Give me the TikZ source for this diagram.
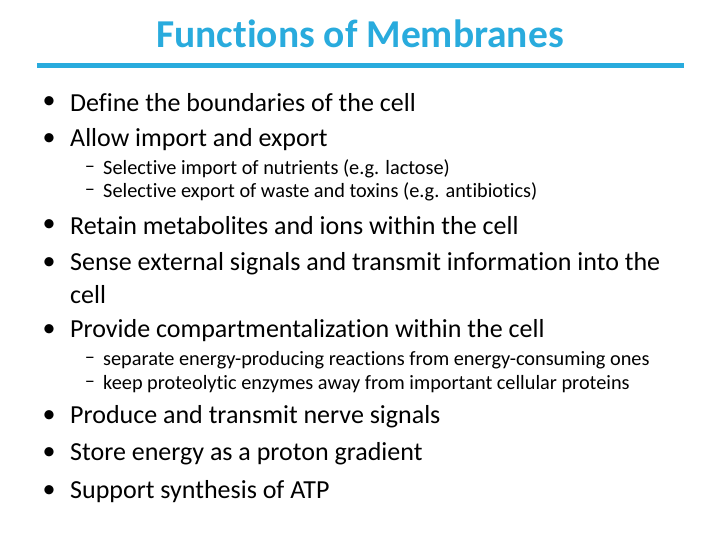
\documentclass[tikz,border=0pt]{standalone}
\usepackage{fontspec}
\setmainfont{Carlito}[Ligatures={NoCommon,NoRequired,NoContextual}]
\usepackage{xcolor}
\definecolor{titleblue}{RGB}{41,171,221}
\begin{document}
\begin{tikzpicture}[x=1pt,y=-1pt]
  % styles
  \tikzset{
    heading/.style={anchor=center, text=titleblue, font=\fontsize{39.5}{44}\selectfont\bfseries},
    item/.style={anchor=west, inner sep=0pt, font=\fontsize{26}{30}\selectfont},
    subitem/.style={anchor=west, inner sep=0pt, font=\fontsize{20.3}{24}\selectfont},
    dot/.style={anchor=center, inner sep=0pt, font=\fontsize{26}{30}\selectfont},
    submark/.style={anchor=center, inner sep=0pt, font=\fontsize{20.3}{24}\selectfont},
    rule/.style={draw=titleblue, line width=5pt}
  }
  \useasboundingbox (0,0) rectangle (720,540);

  \node [heading] (title) at (360,34) {Functions of Membranes};
  \coordinate (ruleL) at (37,66);
  \coordinate (ruleR) at (684,66);
  \draw [rule] (ruleL) -- (ruleR);

  % main items
  \foreach \y/\t [count=\i] in {
      103/Define the boundaries of the cell,
      140/Allow import and export,
      226/Retain metabolites and ions within the cell,
      264/Sense external signals and transmit information into the,
      331/Provide compartmentalization within the cell,
      417/Produce and transmit nerve signals,
      454/Store energy as a proton gradient,
      492/Support synthesis of ATP} {
    \node [dot] (bullet\i) at (49,\y) {•};
    \node [item] (item\i) at (70,\y) {\t};
  }
  \node [item] (item4b) at (70,295) {cell};

  % sub items
  \foreach \y/\t [count=\i] in {
      169/Selective import of nutrients (e.g. lactose),
      192/Selective export of waste and toxins (e.g. antibiotics),
      360/separate energy-producing reactions from energy-consuming ones,
      384/keep proteolytic enzymes away from important cellular proteins} {
    \node [submark] (mark\i) at (90,\y) {–};
    \node [subitem] (sub\i) at (103,\y) {\t};
  }
\end{tikzpicture}
\end{document}
